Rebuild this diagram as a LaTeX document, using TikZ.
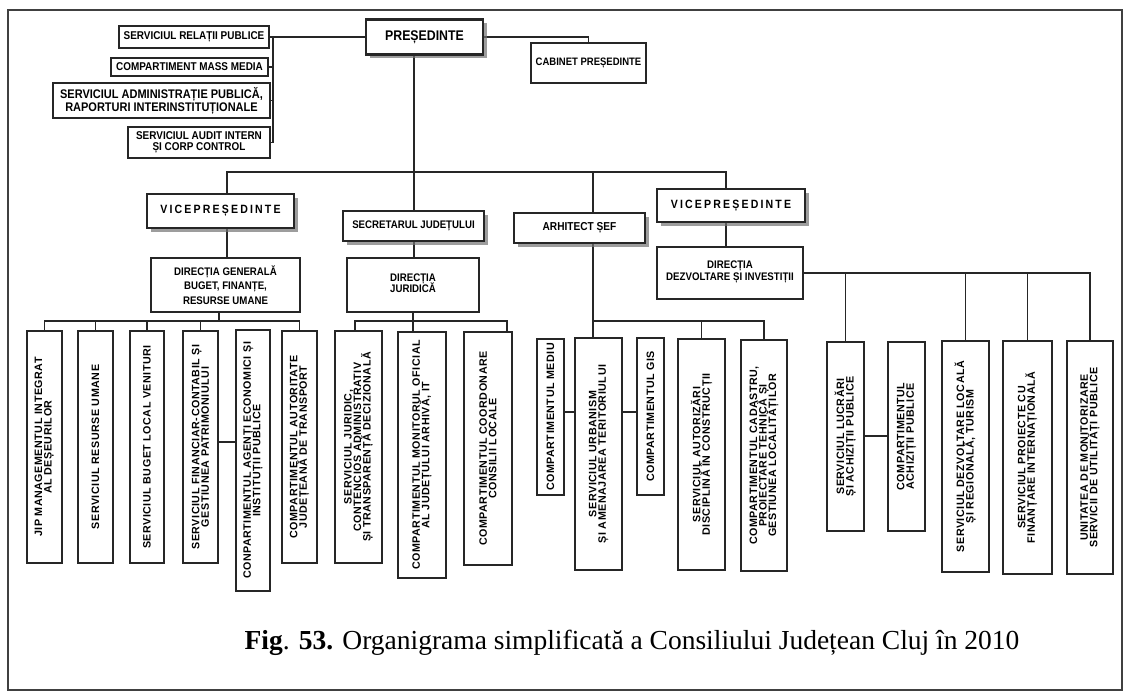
\documentclass[tikz,border=0pt]{standalone}
\usepackage{fontspec}
\usepackage{graphicx}
\setmainfont{Liberation Serif}
\newfontfamily\cf[FakeStretch=0.88]{Liberation Sans Bold}
\newfontfamily\vicef[FakeStretch=0.88,LetterSpace=18]{Liberation Sans Bold}
\newfontfamily\vf[LetterSpace=5]{Liberation Sans Bold}
\usetikzlibrary{shadows}
\pgfdeclarelayer{bg}
\pgfsetlayers{bg,main}
\newcommand\stk[2]{\vbox{\lineskiplimit=-100pt\baselineskip=#1\relax\halign{\hfil##\hfil\cr#2\crcr}}}
\newcommand\vt[1]{\rotatebox{90}{\stk{9.5pt}{#1}}}
\tikzset{
  ln/.style={line width=1.4pt, draw=black!85},
  bx/.style 2 args={draw=black!85, line width=1.6pt, fill=white, inner sep=0pt,
    minimum width=#1pt, minimum height=#2pt},
  tb/.style 2 args={bx={#1}{#2}, line width=1.8pt, font=\cf\fontsize{11}{13}\selectfont},
  db/.style 2 args={bx={#1}{#2}, line width=1.3pt, font=\cf\fontsize{11}{13}\selectfont},
  vb/.style 2 args={bx={#1}{#2}, font=\vf\fontsize{10.7}{9.5}\selectfont},
  shd/.style={drop shadow={shadow xshift=4pt, shadow yshift=-4pt, fill=black!55, opacity=0.7}},
  hb/.style 2 args={bx={#1}{#2}, line width=2.2pt, shd, font=\cf\fontsize{11}{13}\selectfont},
}
\begin{document}
\begin{tikzpicture}[x=1pt,y=-1pt]
\useasboundingbox (0,0) rectangle (1130,700);
\draw[line width=1.2pt, black!75] (8,10) rectangle (1122,690);

% top level
\node[tb={150}{22}, font=\cf\fontsize{11.3}{12}\selectfont] (rel) at (194,37) {SERVICIUL RELAȚII PUBLICE};
\node[tb={157}{18}, font=\cf\fontsize{11.3}{12}\selectfont] (mass) at (189.5,67) {COMPARTIMENT MASS MEDIA};
\node[tb={217}{35}, font=\cf\fontsize{12.5}{13}\selectfont] (admin) at (161.5,100.5) {\stk{13pt}{SERVICIUL ADMINISTRAȚIE PUBLICĂ,\cr RAPORTURI INTERINSTITUȚIONALE}};
\node[tb={142}{31}, font=\cf\fontsize{11.3}{12}\selectfont] (audit) at (199,142.5) {\stk{11.5pt}{SERVICIUL AUDIT INTERN\cr ȘI CORP CONTROL}};
\node[hb={117}{35}, line width=2.6pt, font=\cf\fontsize{14}{16}\selectfont] (pres) at (424.5,37) {PREȘEDINTE};
\node[tb={115}{40}, font=\cf\fontsize{10.8}{12}\selectfont] (cab) at (588.5,63) {\raisebox{3pt}{CABINET PREȘEDINTE}};

% second level
\node[hb={147}{34}, font=\vicef\fontsize{12}{13}\selectfont] (vice1) at (220.5,211) {VICEPREȘEDINTE};
\node[hb={141}{30}] (sec) at (413.5,226) {SECRETARUL JUDEȚULUI};
\node[hb={131}{30}, font=\cf\fontsize{11.5}{13}\selectfont] (arh) at (579.5,228) {ARHITECT ȘEF};
\node[hb={148}{33}, font=\vicef\fontsize{12}{13}\selectfont] (vice2) at (731,205.5) {VICEPREȘEDINTE};

% directions
\node[db={149}{54}] (dir1) at (225.5,285) {\stk{14.5pt}{DIRECȚIA GENERALĂ\cr BUGET, FINANȚE,\cr RESURSE UMANE}};
\node[db={132}{54}] (dir2) at (413,285) {\raisebox{4pt}{\stk{11pt}{DIRECȚIA\cr JURIDICĂ}}};
\node[db={146}{52}] (dir3) at (730,273) {\raisebox{5pt}{\stk{11.5pt}{DIRECȚIA\cr DEZVOLTARE ȘI INVESTIȚII}}};

% vertical boxes, direction 1
\node[vb={35}{232}] (b1) at (44.5,447) {\vt{JIP MANAGEMENTUL INTEGRAT\cr AL DEȘEURILOR}};
\node[vb={35}{232}] (b2) at (95.5,447) {\vt{SERVICIUL RESURSE UMANE}};
\node[vb={34}{232}] (b3) at (147,447) {\vt{SERVICIUL BUGET LOCAL VENITURI}};
\node[vb={35}{232}] (b4) at (200.5,447) {\vt{SERVICIUL FINANCIAR-CONTABIL ȘI\cr GESTIUNEA PATRIMONIULUI}};
\node[vb={34}{261}] (b5) at (253,460.5) {\vt{CONPARTIMENTUL AGENȚI ECONOMICI ȘI\cr INSTITUȚII PUBLICE}};
\node[vb={35}{232}] (b6) at (299.5,447) {\vt{COMPARTIMENTUL AUTORITATE\cr JUDEȚEANĂ DE TRANSPORT}};

% direction 2
\node[vb={47}{232}] (j1) at (358.5,447) {\vt{SERVICIUL JURIDIC,\cr CONTENCIOS ADMINISTRATIV\cr ȘI TRANSPARENȚĂ DECIZIONALĂ}};
\node[vb={48}{246}] (j2) at (422,455) {\vt{COMPARTIMENTUL MONITORUL OFICIAL\cr AL JUDEȚULUI ARHIVĂ, IT}};
\node[vb={48}{233}] (j3) at (488,448.5) {\vt{COMPARTIMENTUL COORDONARE\cr CONSILII LOCALE}};

% architect
\node[vb={27}{156}] (a1) at (550.5,417) {\vt{COMPARTIMENTUL MEDIU}};
\node[vb={47}{232}] (a2) at (598.5,454) {\vt{SERVICIUL URBANISM\cr ȘI AMENAJAREA TERITORIULUI}};
\node[vb={27}{157}] (a3) at (650.5,416.5) {\vt{COMPARTIMENTUL GIS}};
\node[vb={47}{231}] (a4) at (701.5,454.5) {\vt{SERVICIUL AUTORIZĂRI\cr DISCIPLINĂ ÎN CONSTRUCȚII}};
\node[vb={46}{231}] (a5) at (764,455.5) {\vt{COMPARTIMENTUL CADASTRU,\cr PROIECTARE TEHNICĂ ȘI\cr GESTIUNEA LOCALITĂȚILOR}};

% direction 3
\node[vb={37}{189}] (d1) at (845.5,436.5) {\vt{SERVICIUL LUCRĂRI\cr ȘI ACHIZIȚII PUBLICE}};
\node[vb={37}{189}] (d2) at (906.5,436.5) {\vt{COMPARTIMENTUL\cr ACHIZIȚII PUBLICE}};
\node[vb={47}{231}] (d3) at (965.5,456.5) {\vt{SERVICIUL DEZVOLTARE LOCALĂ\cr ȘI REGIONALĂ, TURISM}};
\node[vb={49}{233}] (d4) at (1027.5,457.5) {\vt{SERVICIUL PROIECTE CU\cr FINANȚARE INTERNAȚIONALĂ}};
\node[vb={46}{233}] (d5) at (1090,457.5) {\vt{UNITATEA DE MONITORIZARE\cr SERVICII DE UTILITĂȚI PUBLICE}};

% caption
\node[font=\fontsize{27.5}{30}\selectfont] (cap) at (632,643) {\textbf{Fig}. \textbf{53.} Organigrama simplificată a Consiliului Județean Cluj în 2010};

% connectors
\coordinate (brk) at (273,143);
\coordinate (xm) at (414,172);
\coordinate (xa) at (227,172);
\coordinate (xb) at (593,172);
\coordinate (xc) at (726,172);
\coordinate (ya) at (219,321);
\coordinate (yb) at (0,442);
\coordinate (yc) at (413,321);
\coordinate (j1x) at (355,321);
\coordinate (j3x) at (507,321);
\coordinate (ar) at (593,321);
\coordinate (yd) at (0,412);
\coordinate (ye) at (0,436);
\begin{pgfonlayer}{bg}
\draw[ln] (rel.east) -- (pres.west);
\draw[ln] (rel.east -| brk) -- (brk);
\draw[ln] (mass.east) -- (mass.east -| brk);
\draw[ln] (admin.east) -- (admin.east -| brk);
\draw[ln] (audit.east) -- (audit.east -| brk);
\draw[ln] (pres.east) -| (cab.north);
\draw[ln] (pres.south -| xm) -- (sec.north -| xm);
\draw[ln] (vice1.north -| xa) -- (xa) -- (xc) -- (vice2.north -| xc);
\draw[ln] (xb) -- (arh.north -| xb);
\draw[ln] (vice1.south -| xa) -- (dir1.north -| xa);
\draw[ln] (sec.south -| xm) -- (dir2.north -| xm);
\draw[ln] (vice2.south -| xc) -- (dir3.north -| xc);
% direction 1
\draw[ln] (dir1.south -| ya) -- (ya);
\draw[ln] (b1.north) -- (b1.north |- ya) -- (b6.north |- ya) -- (b6.north);
\foreach \n in {b2,b3,b4} \draw[ln] (\n.north |- ya) -- (\n.north);
\draw[ln] (b4.east |- yb) -- (b5.west |- yb);
% direction 2
\draw[ln] (dir2.south -| yc) -- (yc) -- (j2.north -| yc);
\draw[ln] (j1.north -| j1x) -- (j1x) -- (j3x) -- (j3.north -| j3x);
% architect
\draw[ln] (arh.south -| ar) -- (a2.north -| ar);
\draw[ln] (ar) -- (a5.north |- ar) -- (a5.north);
\draw[ln] (a4.north |- ar) -- (a4.north);
\draw[ln] (a1.east |- yd) -- (a2.west |- yd);
\draw[ln] (a2.east |- yd) -- (a3.west |- yd);
% direction 3
\draw[ln] (dir3.east) -- (d5.north |- dir3.east) -- (d5.north);
\foreach \n in {d1,d3,d4} \draw[ln] (\n.north |- dir3.east) -- (\n.north);
\draw[ln] (d1.east |- ye) -- (d2.west |- ye);
\end{pgfonlayer}
\end{tikzpicture}
\end{document}
